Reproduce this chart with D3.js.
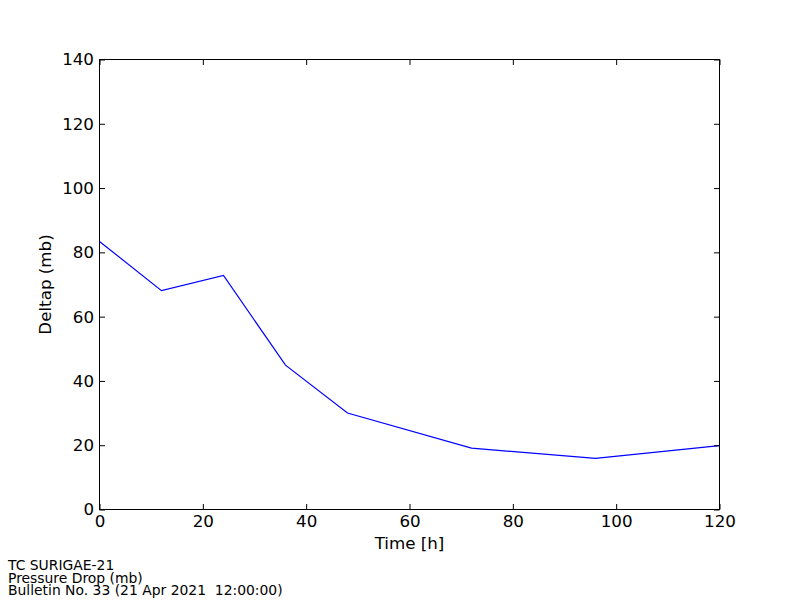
<!DOCTYPE html>
<html><head><meta charset="utf-8">
<script src="https://cdn.jsdelivr.net/npm/d3@7"></script>
<style>body{margin:0;background:#fff}svg{display:block}text{font-family:"DejaVu Sans";fill:#000}</style>
</head><body><svg id="c" width="800" height="600"></svg>
<script>
const hours = [0, 12, 24, 36, 48, 72, 96, 120];
const deltap = [83.4, 68.1, 72.8, 44.9, 30.0, 19.1, 15.9, 19.9];
const xTicks = [0, 20, 40, 60, 80, 100, 120];
const yTicks = [0, 20, 40, 60, 80, 100, 120, 140];
const footer = ["TC SURIGAE-21", "Pressure Drop (mb)", "Bulletin No. 33 (21 Apr 2021  12:00:00)"];

const svg = d3.select("#c");
const L = 99.5, R = 719.5, T = 59.5, B = 509.5;
const x = d3.scaleLinear().domain([0, 120]).range([L, R]);
const y = d3.scaleLinear().domain([0, 140]).range([B, T]);
const tl = 5.5;

const g = svg.append("g");
g.append("rect").attr("x", L).attr("y", T).attr("width", R - L).attr("height", B - T)
  .attr("fill", "none").attr("stroke", "#000").attr("stroke-width", 1);

g.append("path").datum(hours.map((h, i) => [h, deltap[i]]))
  .attr("d", d3.line().x(d => x(d[0])).y(d => y(d[1])))
  .attr("fill", "none").attr("stroke", "#0000ff").attr("stroke-width", 1.2);

const ax = (gen, tr) => svg.append("g").attr("transform", tr).call(gen)
  .call(s => s.select(".domain").remove())
  .call(s => s.selectAll("line").attr("stroke", "#000"))
  .call(s => s.selectAll("text").attr("font-family", "DejaVu Sans").attr("font-size", "16.7px").attr("fill", "#000"));

ax(d3.axisBottom(x).tickValues(xTicks).tickSizeInner(-tl).tickSizeOuter(0).tickPadding(6), `translate(0,${B})`);
ax(d3.axisTop(x).tickValues(xTicks).tickSizeInner(-tl).tickSizeOuter(0).tickFormat(""), `translate(0,${T})`);
ax(d3.axisLeft(y).tickValues(yTicks).tickSizeInner(-tl).tickSizeOuter(0).tickPadding(5.5), `translate(${L},0)`);
ax(d3.axisRight(y).tickValues(yTicks).tickSizeInner(-tl).tickSizeOuter(0).tickFormat(""), `translate(${R},0)`);

svg.append("text").attr("x", (L + R) / 2).attr("y", 549).attr("text-anchor", "middle")
  .attr("font-size", "16.7px").text("Time [h]");
svg.append("text").attr("transform", `translate(51,${(T + B) / 2}) rotate(-90)`).attr("text-anchor", "middle")
  .attr("font-size", "16.7px").text("Deltap (mb)");

svg.append("g").selectAll("text").data(footer).join("text")
  .attr("x", 8).attr("y", (d, i) => 570 + i * 12.5).attr("font-size", "13.9px")
  .style("white-space", "pre").text(d => d);
</script></body></html>
